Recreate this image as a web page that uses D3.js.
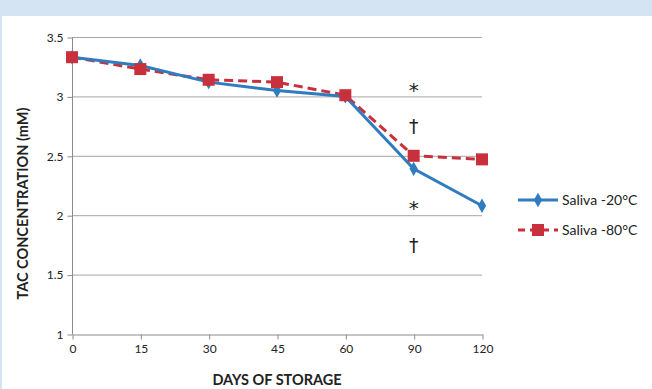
<!DOCTYPE html>
<html>
<head>
<meta charset="utf-8">
<script src="https://cdn.jsdelivr.net/npm/d3@7"></script>
<style>
  body { margin: 0; background: #d5e4f3; }
  svg { display: block; }
  text { font-family: Lato, "Open Sans", sans-serif; fill: #222; }
</style>
</head>
<body>
<script>
// chart data
const days = ['0', '15', '30', '45', '60', '90', '120'];
const saliva20 = [3.33, 3.26, 3.12, 3.05, 3.00, 2.39, 2.08];
const saliva80 = [3.33, 3.23, 3.14, 3.12, 3.01, 2.50, 2.47];
const yTicks = [1, 1.5, 2, 2.5, 3, 3.5];
const marks = [
  {day: '90', y: 3.04, label: '*'},
  {day: '90', y: 2.74, label: '†'},
  {day: '90', y: 2.05, label: '*'},
  {day: '90', y: 1.74, label: '†'}
];

const width = 652,
  height = 389,
  margin = {top: 37, right: 170, bottom: 55, left: 72};

const svg = d3.select('body').append('svg')
  .attr('width', width)
  .attr('height', height);

// white panel
svg.append('rect')
  .attr('x', 2).attr('y', 16)
  .attr('width', width - 2).attr('height', height - 16)
  .attr('fill', '#fff');

const x = d3.scalePoint()
  .domain(days)
  .range([margin.left, width - margin.right]);

const y = d3.scaleLinear()
  .domain([1, 3.5])
  .range([height - margin.bottom, margin.top]);

// gridlines
svg.append('g')
  .selectAll('line')
  .data(yTicks.slice(1))
  .enter().append('line')
  .attr('x1', margin.left).attr('x2', width - margin.right)
  .attr('y1', d => y(d) + 0.5).attr('y2', d => y(d) + 0.5)
  .attr('stroke', '#a6a6a6');

// axes
const yAxis = svg.append('g')
  .attr('transform', 'translate(' + (margin.left + 0.5) + ',0.5)')
  .call(d3.axisLeft(y).tickValues(yTicks).tickSize(5).tickPadding(4)
    .tickFormat(d3.format('~g')));
const xAxis = svg.append('g')
  .attr('transform', 'translate(0.5,' + (y(1) + 0.5) + ')')
  .call(d3.axisBottom(x).tickSize(5).tickPadding(5).tickSizeOuter(0));
[xAxis, yAxis].forEach(a => {
  a.select('.domain').attr('stroke', '#8c8c8c');
  a.selectAll('.tick line').attr('stroke', '#8c8c8c');
  a.selectAll('text').attr('font-size', 12).attr('fill', '#222')
    .style('font-family', 'Lato, sans-serif');
});
yAxis.select('.domain').attr('d', 'M0,' + y(3.5) + 'V' + y(1));

// axis titles
svg.append('text')
  .attr('x', x('45'))
  .attr('y', 385)
  .attr('text-anchor', 'middle')
  .attr('font-size', 14.5)
  .attr('font-weight', 'bold')
  .text('DAYS OF STORAGE');
svg.append('text')
  .attr('transform', 'translate(28,' + (y(2.25) + 18) + ') rotate(-90)')
  .attr('text-anchor', 'middle')
  .attr('font-size', 14.5)
  .attr('font-weight', 'bold')
  .text('TAC CONCENTRATION  (mM)');

const line = d3.line()
  .x((d, i) => x(days[i]))
  .y(d => y(d));

const blue = '#2f7cbf', red = '#c8303c';

// -80 series (behind)
svg.append('path')
  .datum(saliva80)
  .attr('d', line)
  .attr('fill', 'none')
  .attr('stroke', red)
  .attr('stroke-width', 3)
  .attr('stroke-dasharray', '9,5');

svg.append('path')
  .datum(saliva20)
  .attr('d', line)
  .attr('fill', 'none')
  .attr('stroke', blue)
  .attr('stroke-width', 3);

svg.append('g').selectAll('path')
  .data(saliva20)
  .enter().append('path')
  .attr('d', d3.symbol(d3.symbolDiamond, 60))
  .attr('transform', (d, i) => 'translate(' + x(days[i]) + ',' + y(d) + ')')
  .attr('fill', blue);

svg.append('g').selectAll('rect')
  .data(saliva80)
  .enter().append('rect')
  .attr('x', (d, i) => x(days[i]) - 6)
  .attr('y', d => y(d) - 6)
  .attr('width', 12).attr('height', 12)
  .attr('fill', red);

// significance marks
svg.append('g').selectAll('text')
  .data(marks)
  .enter().append('text')
  .attr('x', d => x(d.day))
  .attr('y', d => y(d.y))
  .attr('text-anchor', 'middle')
  .attr('dominant-baseline', 'middle')
  .attr('font-size', d => d.label === '*' ? 20 : 19)
  .style('font-family', 'DejaVu Sans, sans-serif')
  .text(d => d.label);

// legend
const legend = svg.append('g').attr('transform', 'translate(518,0)');
const series = [
  {name: 'Saliva -20°C', color: blue, dash: null, y: 200},
  {name: 'Saliva -80°C', color: red, dash: '7,5', y: 230}
];
series.forEach(s => {
  legend.append('line')
    .attr('x1', 0).attr('x2', 40)
    .attr('y1', s.y).attr('y2', s.y)
    .attr('stroke', s.color).attr('stroke-width', 3)
    .attr('stroke-dasharray', s.dash);
  if (s.dash) {
    legend.append('rect').attr('x', 14).attr('y', s.y - 6)
      .attr('width', 12).attr('height', 12).attr('fill', s.color);
  } else {
    legend.append('path').attr('d', d3.symbol(d3.symbolDiamond, 60))
      .attr('transform', 'translate(20,' + s.y + ')').attr('fill', s.color);
  }
  legend.append('text')
    .attr('x', 44).attr('y', s.y + 1)
    .attr('dominant-baseline', 'middle')
    .attr('font-size', 14)
    .text(s.name);
});
</script>
</body>
</html>
